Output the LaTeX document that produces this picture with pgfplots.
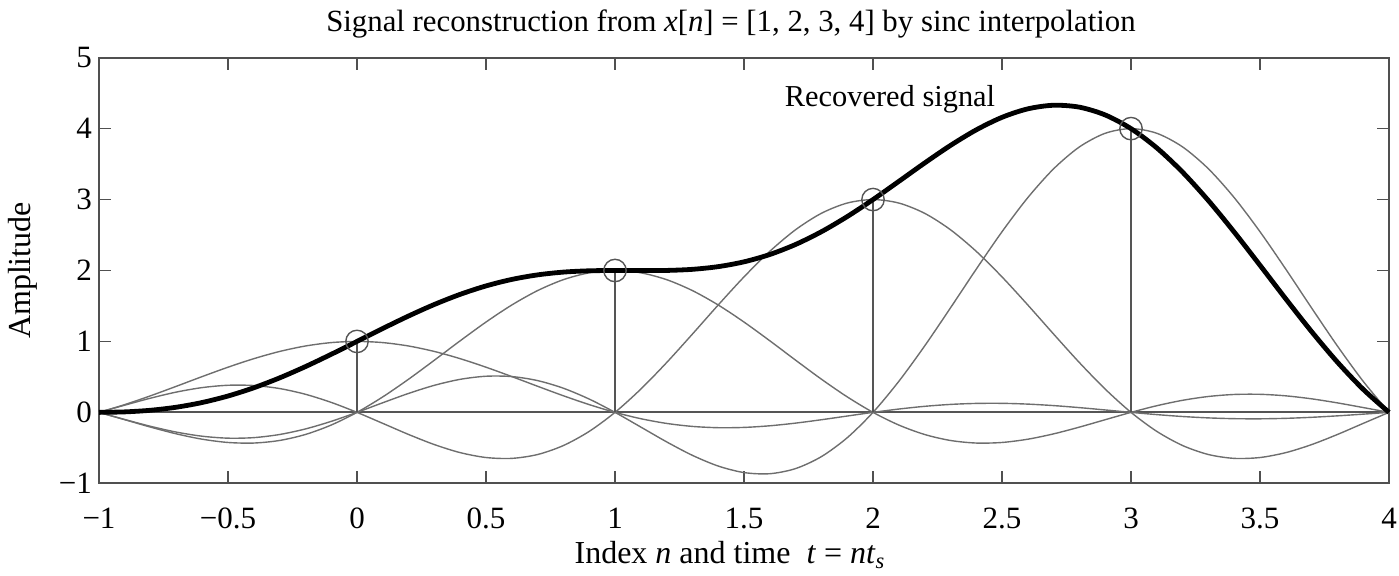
\documentclass[border=0pt]{standalone}
\usepackage{fontspec}
\setmainfont{Liberation Serif}
\usepackage{pgfplots}
\usetikzlibrary{calc}
\pgfplotsset{compat=1.18}
\definecolor{curvegray}{HTML}{6E6E6E}
\definecolor{stemgray}{HTML}{555555}
\definecolor{framegray}{HTML}{505050}
\begin{document}
\begin{tikzpicture}
\begin{axis}[
  name=ax,
  scale only axis,
  width=645pt, height=212.8pt,
  xmin=-1, xmax=4, ymin=-1, ymax=5,
  xtick={-1,-0.5,0,0.5,1,1.5,2,2.5,3,3.5,4},
  xticklabels={−1,−0.5,0,0.5,1,1.5,2,2.5,3,3.5,4},
  ytick={-1,0,1,2,3,4,5},
  yticklabels={−1,0,1,2,3,4,5},
  tick align=inside,
  major tick length=6pt,
  tick style={framegray, line width=0.8pt},
  axis line style={framegray, line width=1pt},
  /pgf/number format/assume math mode=true,
  tick label style={font=\fontsize{15.5}{17}\selectfont},
  xticklabel style={yshift=-9pt},
  label style={font=\fontsize{16}{18}\selectfont},
  title style={font=\fontsize{15.4}{17}\selectfont, yshift=0pt, xshift=-6.5pt},
  title={Signal reconstruction from \textit{x}[\textit{n}] = [1, 2, 3, 4] by sinc interpolation},
  xlabel={Index \textit{n} and time \ \textit{t} = \textit{nt}\textsubscript{\textit{s}}},
  ylabel={Amplitude},
  xlabel style={yshift=1pt, xshift=-7pt},
  ylabel style={yshift=4pt},
  clip=false,
]
% zero line
\addplot[stemgray, line width=1pt] coordinates {(-1,0) (4,0)};
% x[0]=1 sinc
\addplot[curvegray, line width=0.7pt, smooth] coordinates {
(-1.0,0) (-0.9,0.1093) (-0.8,0.2339) (-0.7,0.3679) (-0.6,0.5046) (-0.5,0.6366) (-0.4,0.7568) (-0.3,0.8584) (-0.2,0.9355) (-0.1,0.9836)
(0.0,1) (0.1,0.9836) (0.2,0.9355) (0.3,0.8584) (0.4,0.7568) (0.5,0.6366) (0.6,0.5046) (0.7,0.3679) (0.8,0.2339) (0.9,0.1093)
(1.0,0) (1.1,-0.0894) (1.2,-0.1559) (1.3,-0.1981) (1.4,-0.2162) (1.5,-0.2122) (1.6,-0.1892) (1.7,-0.1515) (1.8,-0.1039) (1.9,-0.0518)
(2.0,0) (2.1,0.0468) (2.2,0.0850) (2.3,0.1120) (2.4,0.1261) (2.5,0.1273) (2.6,0.1164) (2.7,0.0954) (2.8,0.0668) (2.9,0.0339)
(3.0,0) (3.1,-0.0317) (3.2,-0.0585) (3.3,-0.0780) (3.4,-0.0890) (3.5,-0.0909) (3.6,-0.0841) (3.7,-0.0696) (3.8,-0.0492) (3.9,-0.0252)
(4.0,0)};
% x[1]=2 sinc
\addplot[curvegray, line width=0.7pt, smooth] coordinates {
(-1.0,0) (-0.9,-0.1035) (-0.8,-0.2079) (-0.7,-0.3030) (-0.6,-0.3784) (-0.5,-0.4244) (-0.4,-0.4325) (-0.3,-0.3962) (-0.2,-0.3118) (-0.1,-0.1788)
(0.0,0) (0.1,0.2186) (0.2,0.4677) (0.3,0.7358) (0.4,1.0091) (0.5,1.2732) (0.6,1.5137) (0.7,1.7168) (0.8,1.8710) (0.9,1.9673)
(1.0,2) (1.1,1.9673) (1.2,1.8710) (1.3,1.7168) (1.4,1.5137) (1.5,1.2732) (1.6,1.0091) (1.7,0.7358) (1.8,0.4677) (1.9,0.2186)
(2.0,0) (2.1,-0.1788) (2.2,-0.3118) (2.3,-0.3962) (2.4,-0.4325) (2.5,-0.4244) (2.6,-0.3784) (2.7,-0.3030) (2.8,-0.2079) (2.9,-0.1035)
(3.0,0) (3.1,0.0937) (3.2,0.1701) (3.3,0.2239) (3.4,0.2523) (3.5,0.2546) (3.6,0.2329) (3.7,0.1908) (3.8,0.1336) (3.9,0.0678)
(4.0,0)};
% x[2]=3 sinc
\addplot[curvegray, line width=0.7pt, smooth] coordinates {
(-1.0,0) (-0.9,0.1018) (-0.8,0.2005) (-0.7,0.2861) (-0.6,0.3493) (-0.5,0.3820) (-0.4,0.3784) (-0.3,0.3359) (-0.2,0.2551) (-0.1,0.1405)
(0.0,0) (0.1,-0.1553) (0.2,-0.3118) (0.3,-0.4544) (0.4,-0.5676) (0.5,-0.6366) (0.6,-0.6487) (0.7,-0.5943) (0.8,-0.4677) (0.9,-0.2683)
(1.0,0) (1.1,0.3279) (1.2,0.7016) (1.3,1.1036) (1.4,1.5137) (1.5,1.9099) (1.6,2.2705) (1.7,2.5752) (1.8,2.8065) (1.9,2.9509)
(2.0,3) (2.1,2.9509) (2.2,2.8065) (2.3,2.5752) (2.4,2.2705) (2.5,1.9099) (2.6,1.5137) (2.7,1.1036) (2.8,0.7016) (2.9,0.3279)
(3.0,0) (3.1,-0.2683) (3.2,-0.4677) (3.3,-0.5943) (3.4,-0.6487) (3.5,-0.6366) (3.6,-0.5676) (3.7,-0.4544) (3.8,-0.3118) (3.9,-0.1553)
(4.0,0)};
% x[3]=4 sinc
\addplot[curvegray, line width=0.7pt, smooth] coordinates {
(-1.0,0) (-0.9,-0.1009) (-0.8,-0.1969) (-0.7,-0.2784) (-0.6,-0.3364) (-0.5,-0.3638) (-0.4,-0.3562) (-0.3,-0.3121) (-0.2,-0.2339) (-0.1,-0.1269)
(0.0,0) (0.1,0.1357) (0.2,0.2673) (0.3,0.3815) (0.4,0.4657) (0.5,0.5093) (0.6,0.5046) (0.7,0.4479) (0.8,0.3402) (0.9,0.1874)
(1.0,0) (1.1,-0.2071) (1.2,-0.4158) (1.3,-0.6059) (1.4,-0.7568) (1.5,-0.8488) (1.6,-0.8649) (1.7,-0.7924) (1.8,-0.6237) (1.9,-0.3577)
(2.0,0) (2.1,0.4372) (2.2,0.9355) (2.3,1.4715) (2.4,2.0182) (2.5,2.5465) (2.6,3.0273) (2.7,3.4336) (2.8,3.7420) (2.9,3.9345)
(3.0,4) (3.1,3.9345) (3.2,3.7420) (3.3,3.4336) (3.4,3.0273) (3.5,2.5465) (3.6,2.0182) (3.7,1.4715) (3.8,0.9355) (3.9,0.4372)
(4.0,0)};
% stems
\addplot[ycomb, stemgray, line width=0.8pt] coordinates {(0,1) (1,2) (2,3) (3,4)};
% recovered signal
\addplot[black, line width=2.4pt, smooth] coordinates {
(-1.0,0) (-0.9,0.0067) (-0.8,0.0296) (-0.7,0.0726) (-0.6,0.1391) (-0.5,0.2304) (-0.4,0.3465) (-0.3,0.4860) (-0.2,0.6449) (-0.1,0.8184)
(0.0,1) (0.1,1.1826) (0.2,1.3587) (0.3,1.5213) (0.4,1.6640) (0.5,1.7825) (0.6,1.8742) (0.7,1.9383) (0.8,1.9774) (0.9,1.9957)
(1.0,2) (1.1,1.9987) (1.2,2.0009) (1.3,2.0164) (1.4,2.0544) (1.5,2.1221) (1.6,2.2255) (1.7,2.3671) (1.8,2.5466) (1.9,2.7600)
(2.0,3) (2.1,3.2561) (2.2,3.5152) (2.3,3.7625) (2.4,3.9823) (2.5,4.1593) (2.6,4.2790) (2.7,4.3296) (2.8,4.3025) (2.9,4.1928)
(3.0,4) (3.1,3.7282) (3.2,3.3859) (3.3,2.9852) (3.4,2.5419) (3.5,2.0736) (3.6,1.5994) (3.7,1.1383) (3.8,0.7081) (3.9,0.3245)
(4.0,0)};
% sample circles
\addplot[only marks, mark=o, mark size=5.6pt, mark options={stemgray, line width=0.7pt}] coordinates {(0,1) (1,2) (2,3) (3,4)};
\node[font=\fontsize{15.2}{17}\selectfont] at (axis cs:2.066,4.42) {Recovered signal};
\end{axis}
\pgfresetboundingbox
\path ($(ax.south west)+(-49.5pt,-46.35pt)$) rectangle ($(ax.north east)+(5pt,28.85pt)$);
\end{tikzpicture}
\end{document}
